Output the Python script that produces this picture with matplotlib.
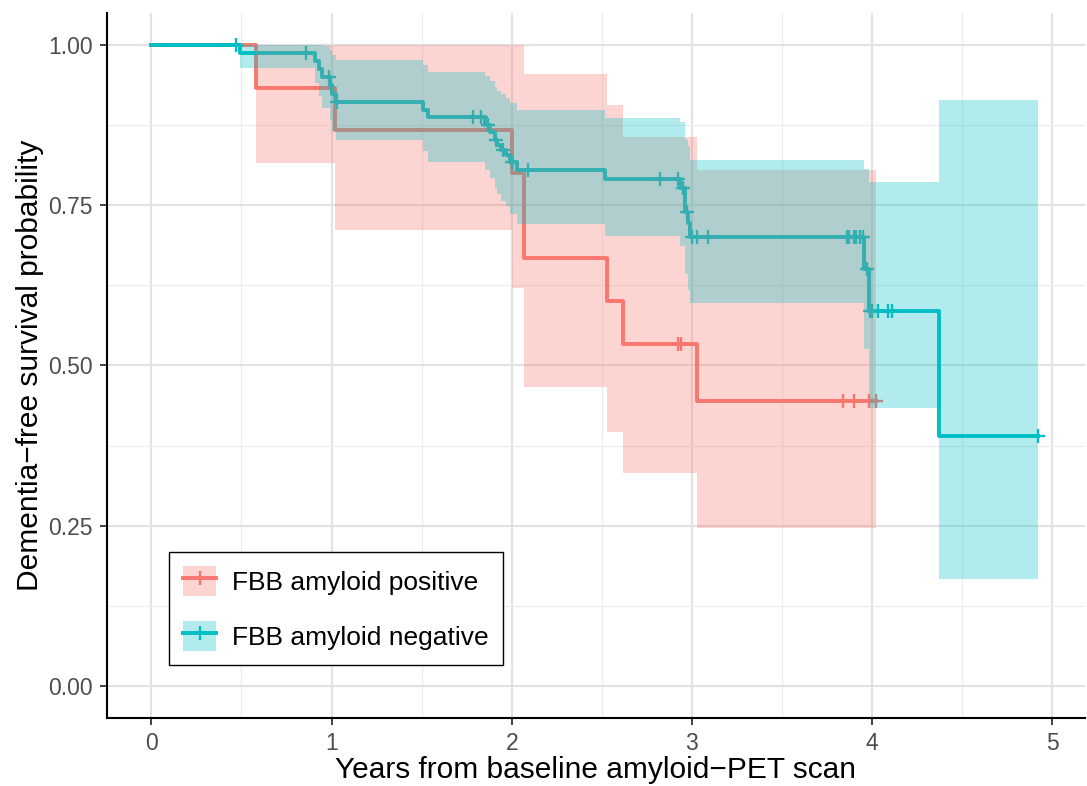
import numpy as np
import matplotlib
matplotlib.use("Agg")
import matplotlib.pyplot as plt
from matplotlib.patches import Patch
from matplotlib.lines import Line2D
from matplotlib.legend_handler import HandlerTuple

plt.rcParams['font.family'] = ['Liberation Sans', 'DejaVu Sans']

# FBB amyloid positive
pos_time = [0, 0.58, 1.02, 2.00, 2.07, 2.53, 2.62, 3.03]
pos_surv = [1.0, 0.933, 0.867, 0.800, 0.667, 0.600, 0.533, 0.444]
pos_lower = [1.0, 0.816, 0.711, 0.621, 0.466, 0.397, 0.332, 0.246]
pos_upper = [1.0, 1.0, 1.0, 1.0, 0.955, 0.906, 0.857, 0.805]
pos_end = 4.02
pos_cens = [2.92, 2.94, 3.84, 3.90, 3.98, 4.02]

# FBB amyloid negative
neg_time = [0, 0.49, 0.906, 0.93, 0.948, 0.989, 1.004, 1.026, 1.51, 1.535,
            1.85, 1.88, 1.905, 1.92, 1.94, 1.97, 1.99, 2.03, 2.52,
            2.933, 2.96, 2.98, 2.99, 3.955, 3.985, 4.37]
neg_surv = [1.0, 0.988, 0.975, 0.962, 0.950, 0.937, 0.924, 0.911, 0.899, 0.887,
            0.875, 0.865, 0.852, 0.844, 0.836, 0.829, 0.818, 0.805, 0.791,
            0.777, 0.740, 0.722, 0.701, 0.651, 0.585, 0.390]
neg_lower = [1.0, 0.964, 0.940, 0.920, 0.901, 0.883, 0.866, 0.852, 0.834, 0.818,
             0.805, 0.793, 0.777, 0.767, 0.757, 0.749, 0.736, 0.721, 0.702,
             0.686, 0.642, 0.618, 0.597, 0.525, 0.434, 0.167]
neg_upper = [1.0, 1.0, 1.0, 1.0, 0.999, 0.992, 0.984, 0.977, 0.969, 0.958,
             0.951, 0.944, 0.934, 0.928, 0.923, 0.918, 0.910, 0.899, 0.886,
             0.880, 0.853, 0.843, 0.820, 0.807, 0.787, 0.914]
neg_end = 4.92
neg_cens = [0.47, 0.86, 0.985, 1.03, 1.785, 1.83, 1.87, 1.91, 1.95, 2.0, 2.09,
            2.82, 2.92, 2.95, 2.97, 3.0, 3.03, 3.09, 3.86, 3.87, 3.90, 3.91,
            3.93, 3.95, 3.97, 3.99, 4.0, 4.03, 4.09, 4.11, 4.92]

labels = ["FBB amyloid positive", "FBB amyloid negative"]
colors = ["#F8766D", "#00BFC4"]

groups = [
    (pos_time, pos_surv, pos_lower, pos_upper, pos_end, pos_cens),
    (neg_time, neg_surv, neg_lower, neg_upper, neg_end, neg_cens),
]

fig = plt.figure(figsize=(10.87, 7.86), dpi=100)
ax = fig.add_axes([0.0984, 0.0865, 0.8996, 0.897])

# curves first, the ribbons go over them (as in the original)
for (t, s, lo, up, end, cens), col in zip(groups, colors):
    tt = np.append(t, end)
    ss = np.append(s, s[-1])
    ax.step(tt, ss, where="post", color=col, lw=2.8, zorder=2)
    idx = np.searchsorted(t, cens, side="right") - 1
    ax.plot(cens, np.array(s)[idx], "+", color=col, ms=10, mew=1.7, zorder=2)

for (t, s, lo, up, end, cens), col in zip(groups, colors):
    tt = np.append(t, end)
    ll = np.append(lo, lo[-1])
    uu = np.append(up, up[-1])
    ax.fill_between(tt, ll, uu, step="post", color=col, alpha=0.3, lw=0, zorder=3)

ax.set_xlim(-0.246, 5.18)
ax.set_ylim(-0.05, 1.05)
ax.set_xticks([0, 1, 2, 3, 4, 5])
ax.set_yticks([0, 0.25, 0.5, 0.75, 1.0])
ax.set_yticklabels(["0.00", "0.25", "0.50", "0.75", "1.00"])
ax.set_xticks(np.arange(0.5, 5, 1), minor=True)
ax.set_yticks(np.arange(0.125, 1.0, 0.25), minor=True)
ax.grid(which="major", color="#E2E2E2", lw=1.5, zorder=0)
ax.grid(which="minor", color="#EDEDED", lw=0.9, zorder=0)
ax.set_axisbelow(True)

for side in ["top", "right"]:
    ax.spines[side].set_visible(False)
for side in ["left", "bottom"]:
    ax.spines[side].set_linewidth(1.5)
    ax.spines[side].set_color("black")

ax.tick_params(which="major", length=5, width=1.3, color="#333333", pad=5,
               labelsize=16.5, labelcolor="#4D4D4D")
ax.tick_params(which="minor", length=0)

ax.set_xlabel("Years from baseline amyloid\u2212PET scan", fontsize=21.5, labelpad=1)
ax.set_ylabel("Dementia\u2212free survival probability", fontsize=21.5, labelpad=3)

handles = []
for col in colors:
    handles.append((Patch(facecolor=col, alpha=0.3, edgecolor="none"),
                    Line2D([], [], color=col, lw=2.8, marker="+", ms=10, mew=1.7)))
leg = ax.legend(handles, labels, handler_map={tuple: HandlerTuple(ndivide=1, pad=0)},
                loc="lower left", bbox_to_anchor=(0.0634, 0.075), borderaxespad=0,
                fontsize=19, frameon=True, fancybox=False, edgecolor="black",
                framealpha=1, handlelength=1.25, handleheight=1.35, labelspacing=0.95,
                borderpad=0.55, handletextpad=0.6)
leg.get_frame().set_linewidth(1.0)

fig.savefig("out.png", dpi=100)
